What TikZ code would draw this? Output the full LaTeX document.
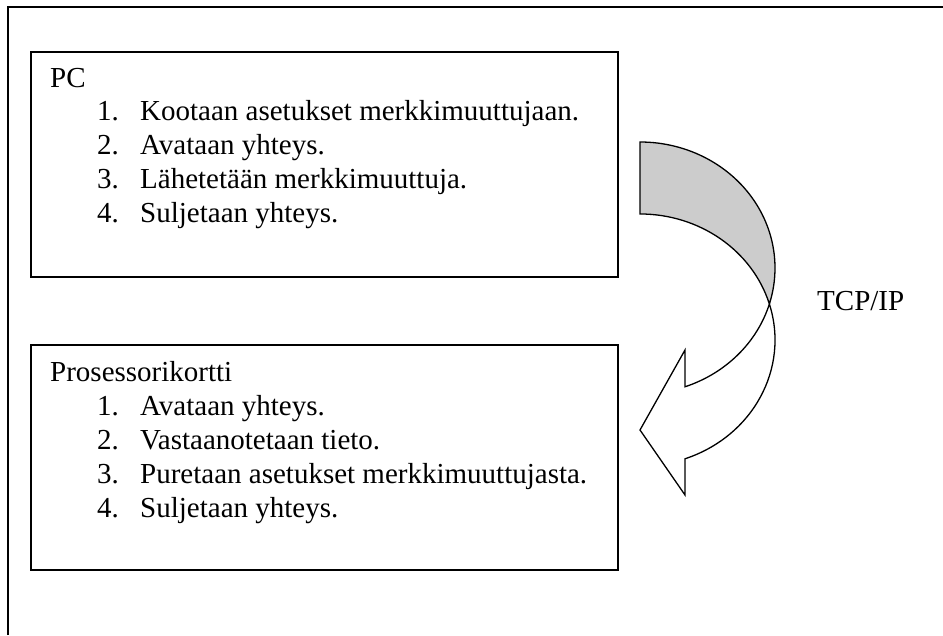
\documentclass[tikz,border=0pt]{standalone}
\usepackage{fontspec}
\setmainfont{Liberation Serif}
\usetikzlibrary{calc}
\definecolor{backgrey}{RGB}{204,204,204}
\tikzset{
  box/.style={draw, line width=1.5pt, minimum width=587pt, minimum height=225pt, inner sep=0pt},
  txt/.style={anchor=base west, inner sep=0pt, font=\fontsize{29}{34}\selectfont},
  band/.style={draw, line width=1.3pt, line join=miter}
}
\begin{document}
\begin{tikzpicture}[x=1pt,y=1pt]
  \useasboundingbox (0,0) rectangle (943,635);
  \coordinate (framebl) at (8,0);
  \coordinate (frametl) at (8,628);
  \coordinate (frametr) at (943,628);
  \draw[line width=1.5pt] (framebl) -- (frametl) -- (frametr);
  \node[box] (pc) at (324.5,470.5) {};
  \node[box] (proc) at (324.5,177.5) {};
  \node[txt] (pctitle) at (50,547) {PC};
  \foreach \i/\t in {1/Kootaan asetukset merkkimuuttujaan., 2/Avataan yhteys.,
    3/Lähetetään merkkimuuttuja., 4/Suljetaan yhteys.} {
    \node[txt] (pcnum\i) at (97,{548-34*\i}) {\i.};
    \node[txt] (pcitem\i) at (140,{548-34*\i}) {\t};
  }
  \node[txt] (proctitle) at (50,253) {Prosessorikortti};
  \foreach \i/\t in {1/Avataan yhteys., 2/Vastaanotetaan tieto.,
    3/Puretaan asetukset merkkimuuttujasta., 4/Suljetaan yhteys.} {
    \node[txt] (procnum\i) at (97,{253-34*\i}) {\i.};
    \node[txt] (procitem\i) at (140,{253-34*\i}) {\t};
  }
  \coordinate (backc) at (640,367);
  \coordinate (frontc) at (640,295);
  \coordinate (cross) at ($(frontc)+(16.6:135 and 126)$);
  \draw[band, fill=backgrey] ($(backc)+(0,126)$)
    arc[start angle=90, end angle=-16.6, x radius=135pt, y radius=126pt]
    arc[start angle=16.6, end angle=90, x radius=135pt, y radius=126pt] -- cycle;
  \draw[band, fill=white] (cross)
    arc[start angle=16.6, end angle=-70.5, x radius=135pt, y radius=126pt]
    -- (685,140) -- (640,205) -- (685,285) -- ($(backc)+(-70.5:135 and 126)$)
    arc[start angle=-70.5, end angle=-16.6, x radius=135pt, y radius=126pt] -- cycle;
  \node[txt] (tcp) at (817,324) {TCP/IP};
\end{tikzpicture}
\end{document}
